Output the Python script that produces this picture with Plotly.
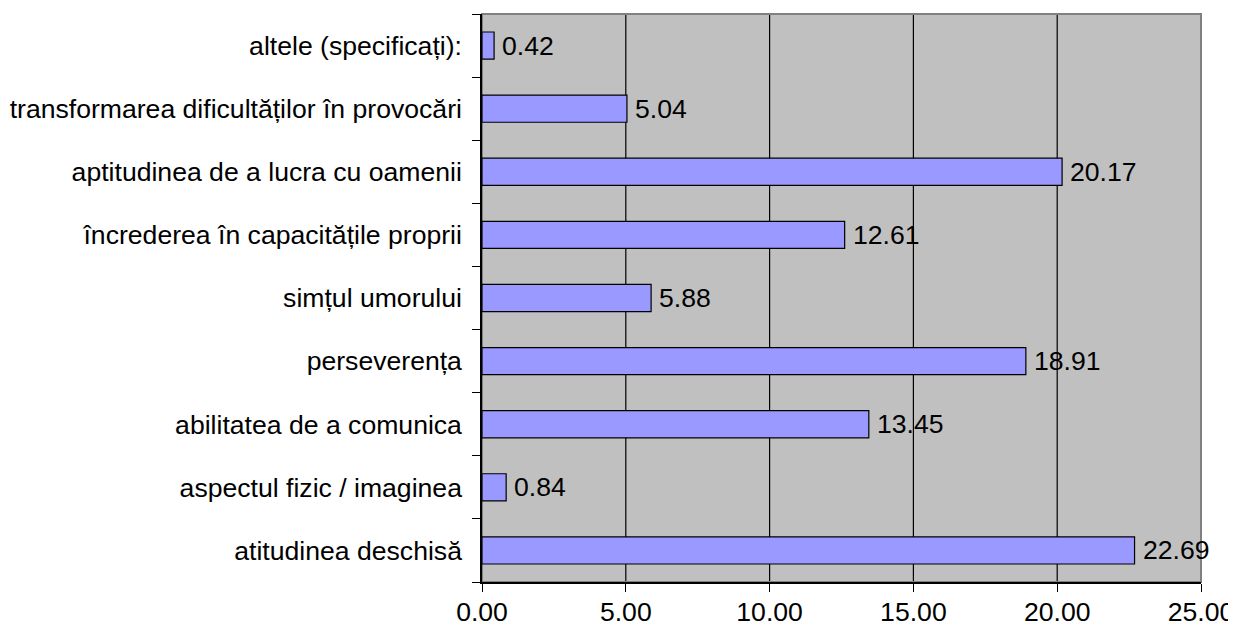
import plotly.graph_objects as go

categories = [
    "atitudinea deschisă",
    "aspectul fizic / imaginea",
    "abilitatea de a comunica",
    "perseverența",
    "simțul umorului",
    "încrederea în capacitățile proprii",
    "aptitudinea de a lucra cu oamenii",
    "transformarea dificultăților în provocări",
    "altele (specificați):",
]
values = [22.69, 0.84, 13.45, 18.91, 5.88, 12.61, 20.17, 5.04, 0.42]
x_ticks = [0, 5, 10, 15, 20, 25]

font = "Liberation Sans, Arial, sans-serif"
fs = 26.6

fig = go.Figure(
    go.Bar(
        x=values,
        y=categories,
        orientation="h",
        marker=dict(color="#9999FF", line=dict(color="black", width=1.2)),
        cliponaxis=False,
    )
)

shapes = [
    dict(type="line", xref="x", yref="paper", x0=t, x1=t, y0=0, y1=1,
         line=dict(color="black", width=1.2), layer="below")
    for t in x_ticks[1:-1]
]
shapes.append(
    dict(type="rect", xref="paper", yref="paper", x0=0, x1=1, y0=0, y1=1,
         line=dict(color="#808080", width=2), layer="below")
)

annotations = [
    dict(x=v, y=c, xref="x", yref="y", text=f"{v:.2f}", showarrow=False,
         xanchor="left", xshift=6, font=dict(size=fs, color="black", family=font))
    for c, v in zip(categories, values)
]

fig.update_layout(
    width=1236,
    height=637,
    margin=dict(l=474, r=43, t=6, b=63),
    paper_bgcolor="white",
    plot_bgcolor="#C0C0C0",
    bargap=0.57,
    showlegend=False,
    font=dict(family=font, size=fs, color="black"),
    shapes=shapes,
    annotations=annotations,
)

fig.update_xaxes(
    range=[0, 25],
    tickvals=x_ticks,
    tickformat=".2f",
    showgrid=False,
    zeroline=False,
    showline=True,
    linecolor="black",
    linewidth=1.5,
    ticks="outside",
    ticklen=8,
    tickcolor="black",
    tickfont=dict(size=fs),
    automargin=False,
    ticklabelstandoff=-3,
)

fig.update_yaxes(
    type="category",
    tickson="boundaries",
    showgrid=False,
    showline=True,
    linecolor="black",
    linewidth=1.5,
    ticks="outside",
    ticklen=8,
    tickcolor="black",
    tickfont=dict(size=fs),
    ticklabelstandoff=13,
    automargin=False,
)

fig.write_html("out.html")
